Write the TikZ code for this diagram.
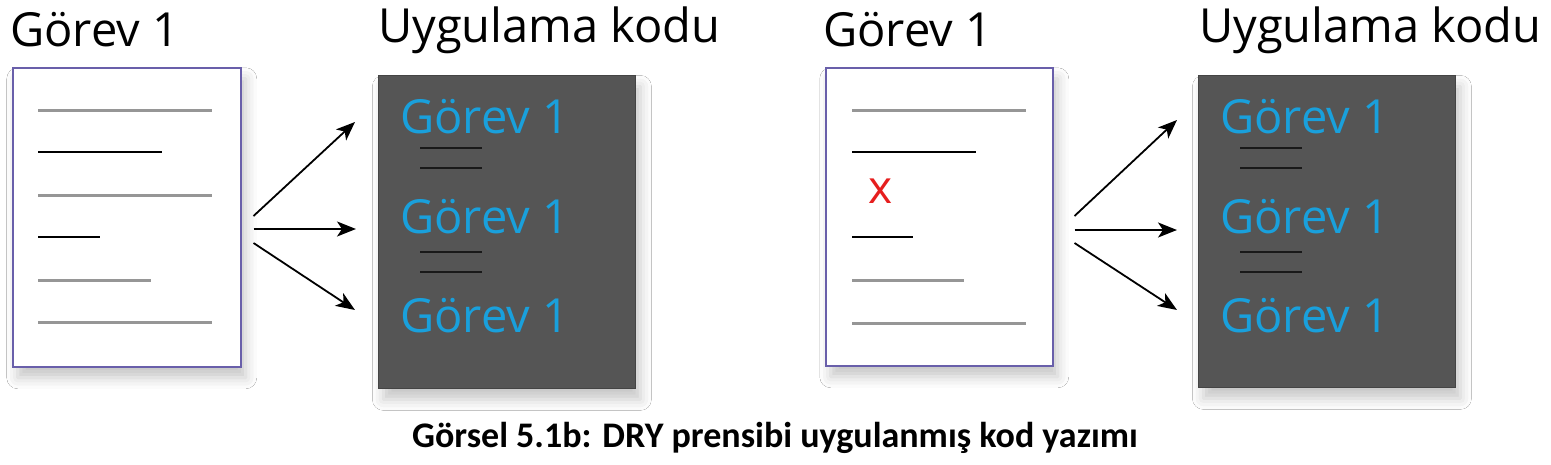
\documentclass[tikz,border=0pt]{standalone}
\usepackage{fontspec}
\setmainfont{Open Sans}
\newfontfamily\capfont{Carlito}
\usetikzlibrary{arrows.meta,shadows.blur}
\definecolor{docborder}{RGB}{105,95,170}
\definecolor{lightline}{RGB}{150,150,150}
\definecolor{darkbox}{RGB}{85,85,85}
\definecolor{codeblue}{RGB}{25,160,220}
\definecolor{crossred}{RGB}{230,30,30}
\tikzset{
  docbox/.style={draw=docborder, line width=1.5pt, fill=white, inner sep=0pt, anchor=north west,
    blur shadow={shadow xshift=5pt, shadow yshift=-11pt, shadow blur radius=11pt, shadow opacity=22}},
  codebox/.style={fill=darkbox, draw=darkbox!80!black, line width=0.8pt, inner sep=0pt, anchor=north west,
    blur shadow={shadow xshift=5pt, shadow yshift=-11pt, shadow blur radius=11pt, shadow opacity=22}},
  title/.style={font=\fontsize{47}{50}\selectfont, text=black, inner sep=0pt, anchor=base west},
  codetext/.style={font=\fontsize{47}{50}\selectfont, text=codeblue, inner sep=0pt, anchor=base west},
  grayline/.style={draw=lightline, line width=3pt},
  blackline/.style={draw=black, line width=2pt},
  codeline/.style={draw=black!90, line width=2pt},
  arrowline/.style={draw=black, line width=1.8pt, -{Stealth[length=19pt,width=15pt,inset=5pt]}},
}
\begin{document}
\begin{tikzpicture}[x=1pt,y=-1pt]
\useasboundingbox (0,0) rectangle (1551,464);
\fill[white] (0,0) rectangle (1551,464);

% ---------- left half ----------
\node[title] (t1) at (10,46.5) {Görev 1};
\node[title] (t2) at (378,42) {Uygulama kodu};
\node[docbox, minimum width=228pt, minimum height=299pt] (doc1) at (12,67) {};
\node[codebox, minimum width=257pt, minimum height=313pt] (box1) at (378,75) {};

\begin{scope}[shift={(doc1.north west)}]
  \draw[grayline] (26,43) -- (200,43);
  \draw[blackline] (26,85) -- (150,85);
  \draw[grayline] (26,128) -- (200,128);
  \draw[blackline] (26,170) -- (88,170);
  \draw[grayline] (26,213) -- (139,213);
  \draw[grayline] (26,255) -- (200,255);
\end{scope}

\begin{scope}[shift={(box1.north west)}]
  \node[codetext] (c11) at (22,58) {Görev 1};
  \draw[codeline] (42,73) -- (104,73);
  \draw[codeline] (42,93) -- (104,93);
  \node[codetext] (c12) at (22,158) {Görev 1};
  \draw[codeline] (42,177) -- (104,177);
  \draw[codeline] (42,197) -- (104,197);
  \node[codetext] (c13) at (22,257) {Görev 1};
\end{scope}

\coordinate (s1a) at ([shift={(12,149)}]doc1.north east);
\coordinate (s1b) at ([shift={(12,162)}]doc1.north east);
\coordinate (s1c) at ([shift={(12,176)}]doc1.north east);
\coordinate (e1a) at ([shift={(-23,47)}]box1.north west);
\coordinate (e1b) at ([shift={(-22,154)}]box1.north west);
\coordinate (e1c) at ([shift={(-23,235)}]box1.north west);
\draw[arrowline] (s1a) -- (e1a);
\draw[arrowline] (s1b) -- (e1b);
\draw[arrowline] (s1c) -- (e1c);

% ---------- right half ----------
\node[title] (t3) at (823,46.5) {Görev 1};
\node[title] (t4) at (1199,42) {Uygulama kodu};
\node[docbox, minimum width=227pt, minimum height=298pt] (doc2) at (825,67) {};
\node[codebox, minimum width=257pt, minimum height=312pt] (box2) at (1198,75) {};

\begin{scope}[shift={(doc2.north west)}]
  \draw[grayline] (27,43) -- (201,43);
  \draw[blackline] (27,85) -- (151,85);
  \node[text=crossred, font=\fontsize{46}{46}\selectfont, inner sep=0pt, anchor=base] (x2) at (56,136) {x};
  \draw[blackline] (27,170) -- (88,170);
  \draw[grayline] (27,213) -- (139,213);
  \draw[grayline] (27,256) -- (201,256);
\end{scope}

\begin{scope}[shift={(box2.north west)}]
  \node[codetext] (c21) at (22,58) {Görev 1};
  \draw[codeline] (42,73) -- (104,73);
  \draw[codeline] (42,93) -- (104,93);
  \node[codetext] (c22) at (22,158) {Görev 1};
  \draw[codeline] (42,177) -- (104,177);
  \draw[codeline] (42,197) -- (104,197);
  \node[codetext] (c23) at (22,257) {Görev 1};
\end{scope}

\coordinate (s2a) at ([shift={(21,149)}]doc2.north east);
\coordinate (s2b) at ([shift={(21,163)}]doc2.north east);
\coordinate (s2c) at ([shift={(21,176)}]doc2.north east);
\coordinate (e2a) at ([shift={(-21,45)}]box2.north west);
\coordinate (e2b) at ([shift={(-21,155)}]box2.north west);
\coordinate (e2c) at ([shift={(-21,235)}]box2.north west);
\draw[arrowline] (s2a) -- (e2a);
\draw[arrowline] (s2b) -- (e2b);
\draw[arrowline] (s2c) -- (e2c);

% ---------- caption ----------
\node[font=\capfont\bfseries\fontsize{36}{40}\selectfont, inner sep=0pt, anchor=base] (cap) at (775,447)
  {Görsel 5.1b: DRY prensibi uygulanmış kod yazımı};
\end{tikzpicture}
\end{document}
